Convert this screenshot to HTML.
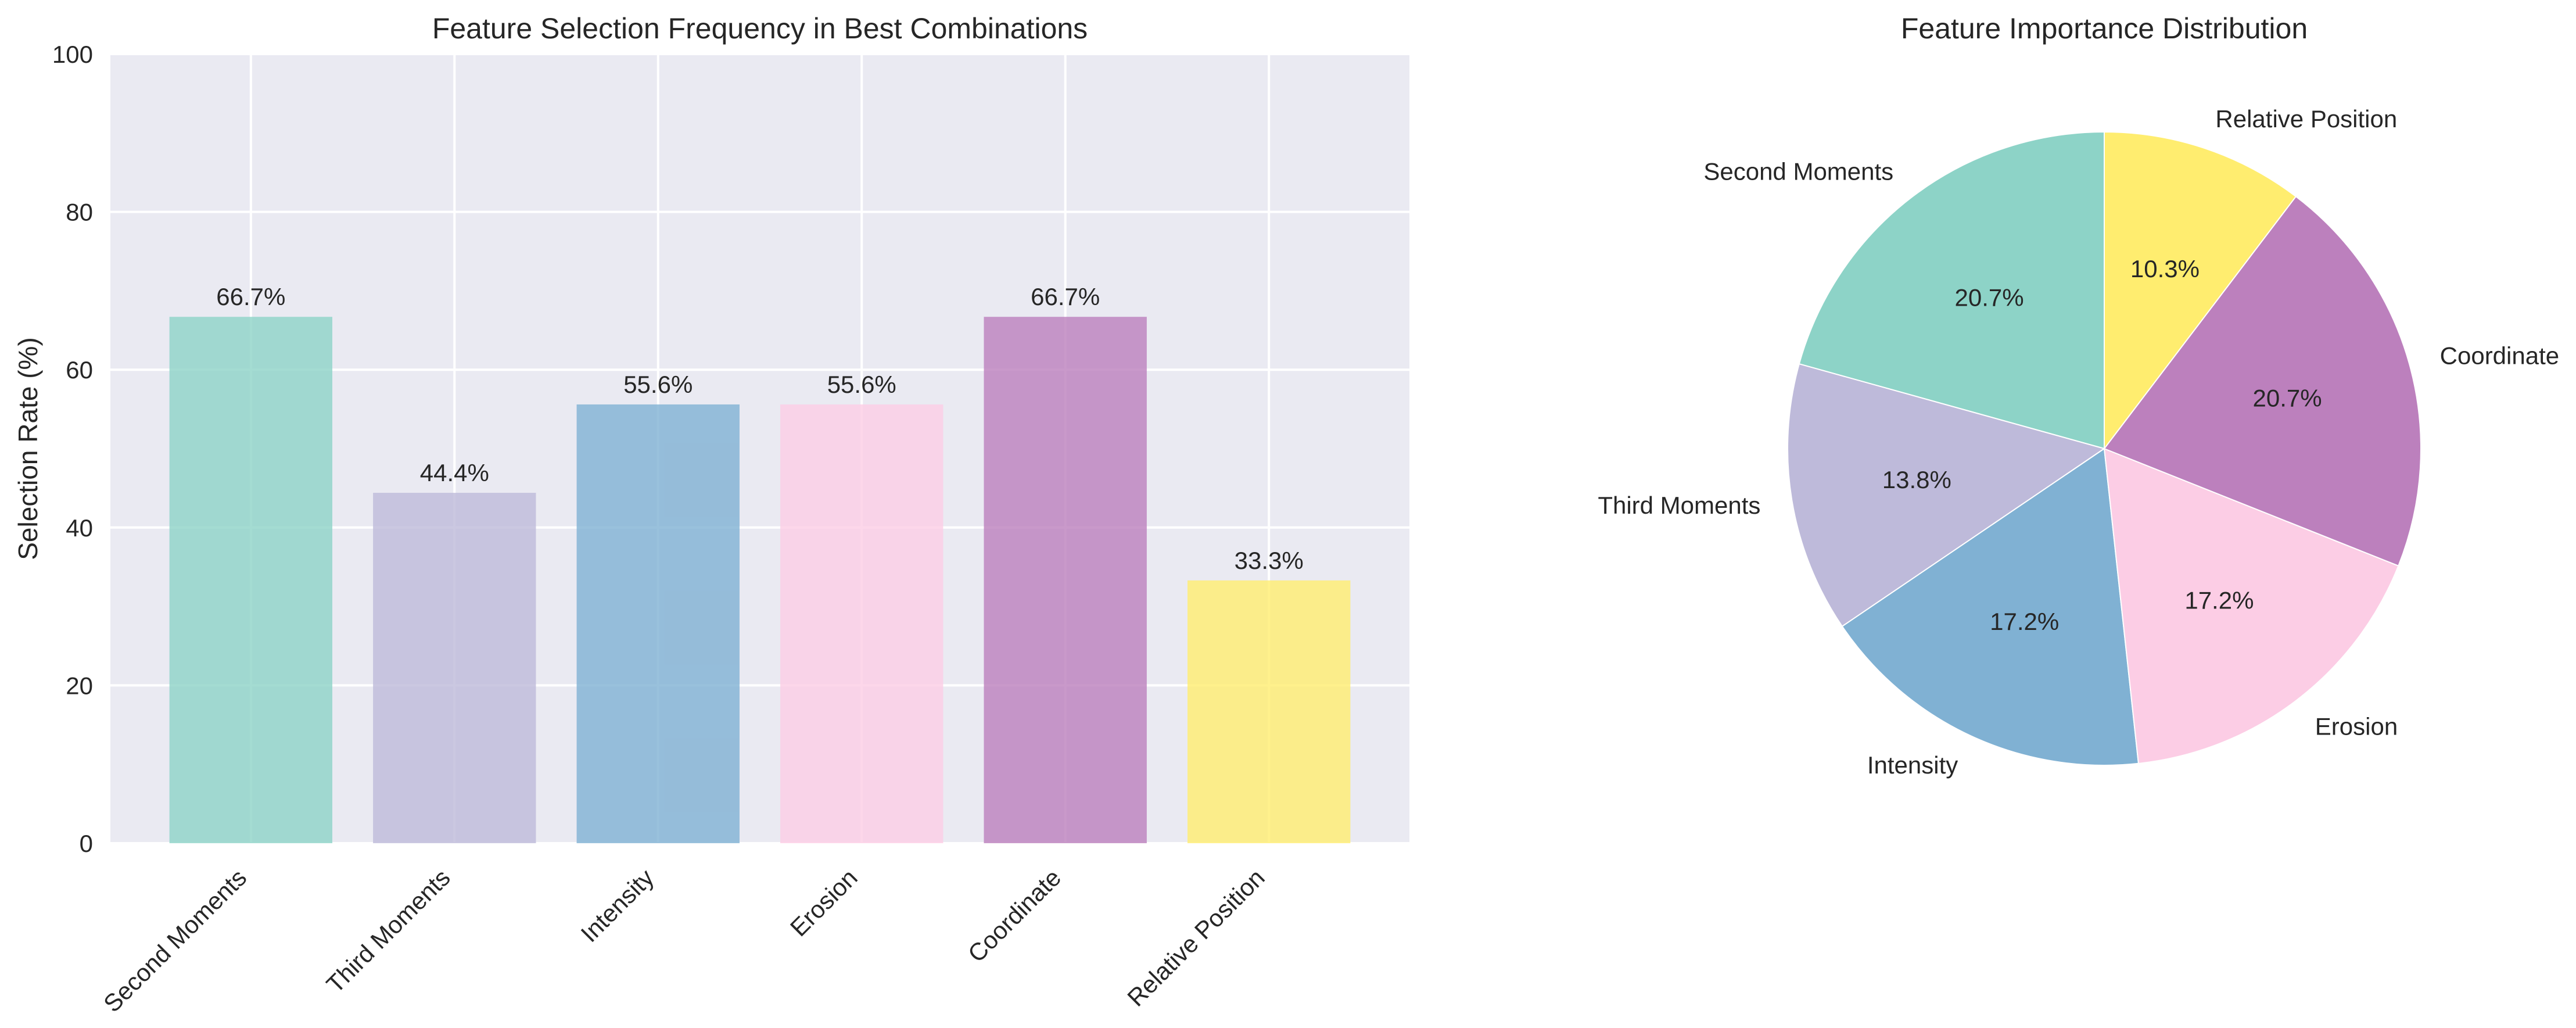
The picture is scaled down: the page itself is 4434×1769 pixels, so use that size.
<!DOCTYPE html>
<html><head><meta charset="utf-8"><style>
html,body{margin:0;padding:0;background:#fff;}
svg{display:block;font-family:"Liberation Sans",Arial,sans-serif;fill:#262626;}
</style></head><body>
<svg id="chart" width="4434" height="1769" viewBox="0 0 4434 1769">
<g id="bar-axes"></g>
<g id="pie-axes"></g>
</svg>
<script>
const categories = ["Second Moments","Third Moments","Intensity","Erosion","Coordinate","Relative Position"];
const selectionRates = [66.7, 44.4, 55.6, 55.6, 66.7, 33.3];
const pieValues = [6, 4, 5, 5, 6, 3];
const yTicks = [0, 20, 40, 60, 80, 100];
const colors = ["#8dd3c7","#bebada","#80b1d3","#fccde5","#bc80bd","#ffed6f"];

const NS = "http://www.w3.org/2000/svg";
function mk(tag, parent, attrs){
  const e = document.createElementNS(NS, tag);
  for (const k in attrs) e.setAttribute(k, attrs[k]);
  parent.appendChild(e);
  return e;
}
const L = 190, R = 2426, T = 93, B = 1451;
const xmin = -0.69, xmax = categories.length - 1 + 0.69;
const xs = i => L + (i - xmin) / (xmax - xmin) * (R - L);
const ys = v => B - v / 100 * (B - T);
const bw = 0.8 * (R - L) / (xmax - xmin);

const bg = document.getElementById("bar-axes");
const bgRect = mk("rect", bg, {x:L, y:T, width:R-L, height:B-T, fill:"#eaeaf2"});


yTicks.forEach(t => {
  const gl = mk("line", bg, {x1:L, x2:R, y1:ys(t), y2:ys(t), stroke:"#fff", "stroke-width":4});
  
  
  const tl = mk("text", bg, {x:160, y:ys(t)+15, "text-anchor":"end", "font-size":42});
  tl.textContent = t;
  
  
});
categories.forEach((c, i) => {
  const gl = mk("line", bg, {x1:xs(i), x2:xs(i), y1:T, y2:B, stroke:"#fff", "stroke-width":4});
  
  
});
categories.forEach((c, i) => {
  const v = selectionRates[i];
  const r = mk("rect", bg, {x:xs(i)-bw/2, y:ys(v), width:bw, height:ys(0)-ys(v), fill:colors[i], "fill-opacity":0.8});
  
  
  const vl = mk("text", bg, {x:xs(i), y:ys(v)-20, "text-anchor":"middle", "font-size":42});
  vl.textContent = v.toFixed(1) + "%";
  
  
  const ax = xs(i) - 26, ay = 1492;
  const xl = mk("text", bg, {x:ax, y:ay+30, "text-anchor":"end", "font-size":42, transform:`rotate(-45 ${ax} ${ay})`});
  xl.textContent = c;
  
  
});
const yt = mk("text", bg, {x:0, y:0, "text-anchor":"middle", "font-size":46, transform:"translate(64 772) rotate(-90)"});
yt.textContent = "Selection Rate (%)";


const bt = mk("text", bg, {x:(L+R)/2, y:66, "text-anchor":"middle", "font-size":50});
bt.textContent = "Feature Selection Frequency in Best Combinations";



const pg = document.getElementById("pie-axes");
const cx = 3622, cy = 772, rad = 545;
const total = pieValues.reduce((a,b)=>a+b,0);
let ang = 90;
pieValues.forEach((v, i) => {
  const sweep = v / total * 360;
  const a0 = ang * Math.PI/180, a1 = (ang + sweep) * Math.PI/180;
  const x0 = cx + rad*Math.cos(a0), y0 = cy - rad*Math.sin(a0);
  const x1 = cx + rad*Math.cos(a1), y1 = cy - rad*Math.sin(a1);
  const large = sweep > 180 ? 1 : 0;
  const p = mk("path", pg, {d:`M${cx},${cy} L${x0},${y0} A${rad},${rad} 0 ${large} 0 ${x1},${y1} Z`, fill:colors[i], stroke:"#fff", "stroke-width":2});
  
  
  const mid = (ang + sweep/2) * Math.PI/180;
  const lx = cx + 1.1*rad*Math.cos(mid), ly = cy - 1.1*rad*Math.sin(mid);
  const lt = mk("text", pg, {x:lx, y:ly+15, "text-anchor": Math.cos(mid) > 0 ? "start" : "end", "font-size":42});
  lt.textContent = categories[i];
  
  
  const px = cx + 0.6*rad*Math.cos(mid), py = cy - 0.6*rad*Math.sin(mid);
  const pt = mk("text", pg, {x:px, y:py+15, "text-anchor":"middle", "font-size":42});
  pt.textContent = (v/total*100).toFixed(1) + "%";
  
  
  ang += sweep;
});
const ptitle = mk("text", pg, {x:cx, y:66, "text-anchor":"middle", "font-size":50});
ptitle.textContent = "Feature Importance Distribution";


</script>
</body></html>
